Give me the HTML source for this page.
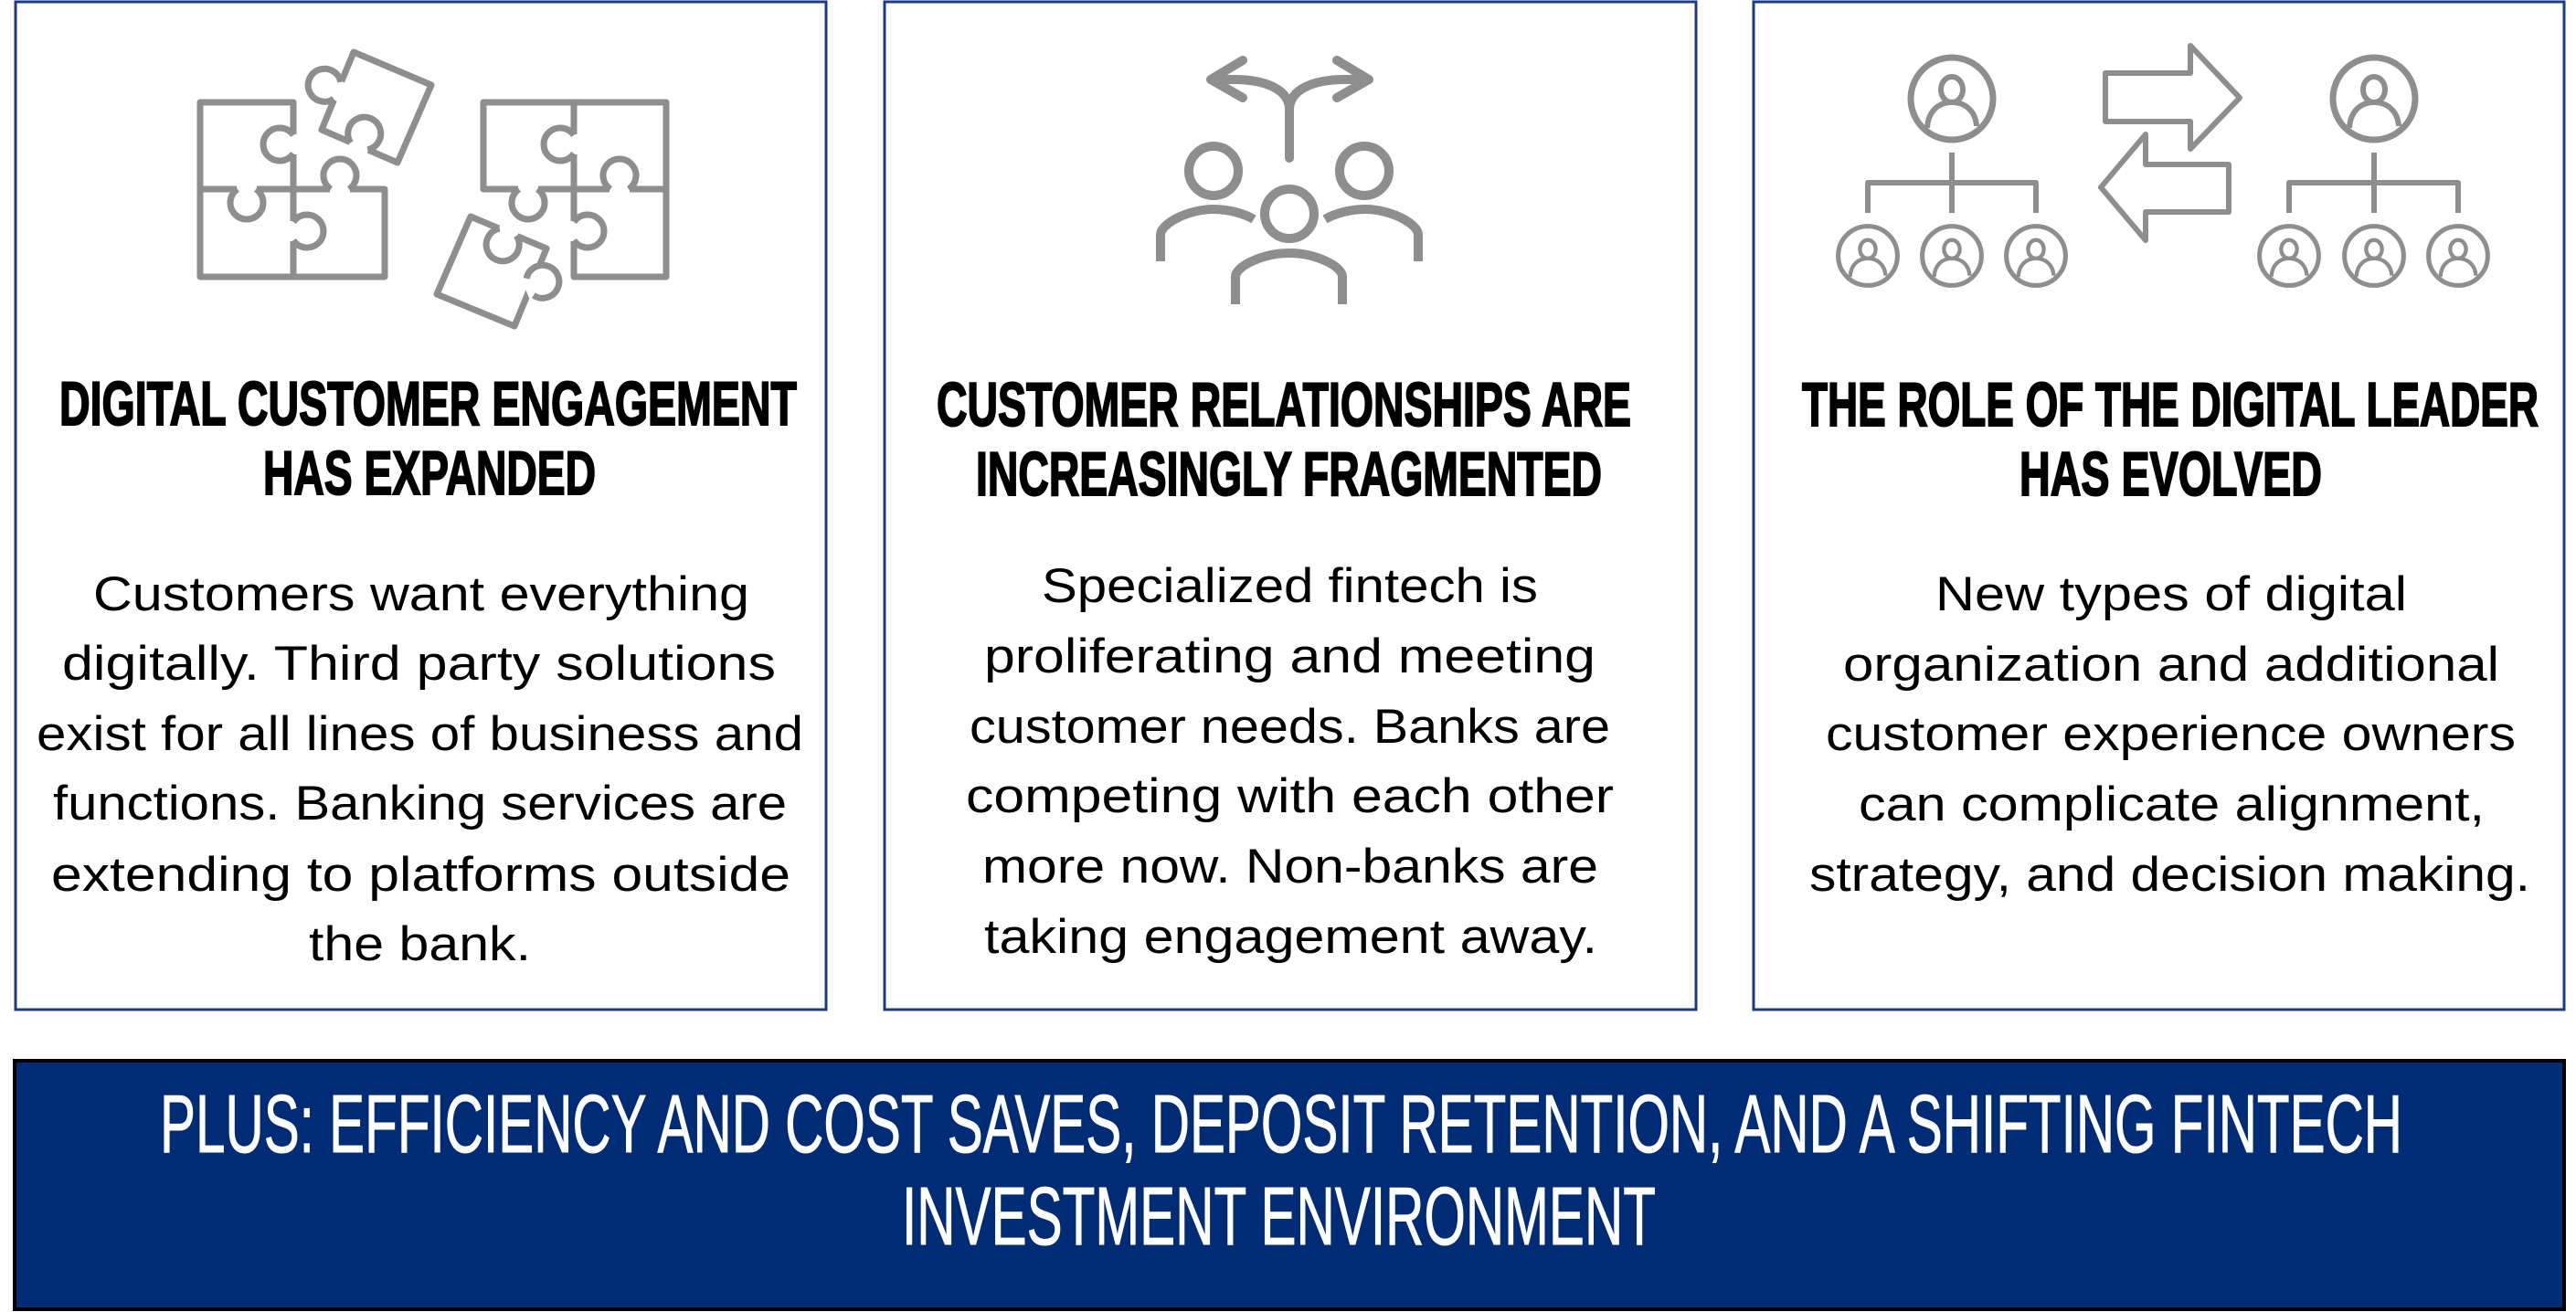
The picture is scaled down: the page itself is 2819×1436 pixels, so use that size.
<!DOCTYPE html>
<html><head><meta charset="utf-8"><style>
html,body{margin:0;padding:0;background:#fff;}
svg{display:block}
.h{font-family:"Liberation Sans Narrow","Liberation Sans",sans-serif;font-weight:bold;font-size:68px;fill:#000;stroke:#000;stroke-width:2}
.b{font-family:"Liberation Sans",sans-serif;font-size:53px;fill:#000}
.p{font-family:"Liberation Sans Narrow","Liberation Sans",sans-serif;font-size:90px;fill:#fff;stroke:#fff;stroke-width:1}
.g{fill:none;stroke:#8e8e8e;stroke-width:7;stroke-linejoin:round}
</style></head><body>
<svg width="2819" height="1436" viewBox="0 0 2819 1436" xmlns="http://www.w3.org/2000/svg">
<defs>
<g id="k"><line x1="-11" y1="0" x2="11" y2="0" stroke="#fff" stroke-width="11"/><path d="M-10,0 A18,18 0 1 1 10,0" fill="#fff" stroke="#8e8e8e" stroke-width="7"/></g>
<g id="pp"><circle r="45" fill="none" stroke="#8e8e8e" stroke-width="7"/><ellipse cx="0" cy="-10" rx="12" ry="14" fill="none" stroke="#8e8e8e" stroke-width="6"/><path d="M-27,32 C-26,14 -15,4 0,4 C15,4 26,14 27,30" fill="none" stroke="#8e8e8e" stroke-width="6"/></g>
</defs>
<rect x="17" y="2" width="887" height="1103" fill="#fff" stroke="#1b3b85" stroke-width="3"/>
<rect x="968" y="2" width="888" height="1103" fill="#fff" stroke="#1b3b85" stroke-width="3"/>
<rect x="1919" y="2" width="887" height="1103" fill="#fff" stroke="#1b3b85" stroke-width="3"/>
<rect x="16" y="1161" width="2790" height="272" fill="#002b75" stroke="#000" stroke-width="4"/>

<path class="g" d="M219,112 H321 V207 H421 V303 H219 Z M219,207 H321 M321,207 V303"/>
<path class="g" d="M529,112 H729 V303 H628 V207 H529 Z M628,112 V207 M628,207 H729"/>
<use href="#k" transform="translate(321,158) rotate(-90)"/>
<use href="#k" transform="translate(372,207)"/>
<use href="#k" transform="translate(321,253) rotate(90)"/>
<use href="#k" transform="translate(270,207) rotate(180)"/>
<use href="#k" transform="translate(628,158) rotate(-90)"/>
<use href="#k" transform="translate(678,207)"/>
<use href="#k" transform="translate(578,207) rotate(180)"/>
<use href="#k" transform="translate(628,253) rotate(90)"/>
<polygon class="g" points="387,57 472,93 435,178 352,142"/>
<use href="#k" transform="translate(369,99) rotate(-67.5)"/>
<use href="#k" transform="translate(393,160) rotate(22.5)"/>
<polygon class="g" points="515,237 598,272 563,357 478,322"/>
<use href="#k" transform="translate(556,254) rotate(203)"/>
<use href="#k" transform="translate(580,314) rotate(67.5)"/>

<g fill="none" stroke="#8e8e8e" stroke-width="10" stroke-linecap="round" stroke-linejoin="round">
<path d="M1360,66 L1325,87 L1360,107 M1327,87 H1350 C1385,87 1411,98 1411,120 V173 M1411,120 C1411,98 1437,87 1472,87 H1497 M1463,66 L1498,87 L1463,107"/>
<circle cx="1328" cy="187" r="27"/><circle cx="1493" cy="187" r="27"/><circle cx="1411" cy="234" r="27"/>
</g>
<g fill="none" stroke="#8e8e8e" stroke-width="10">
<path d="M1270,286 V257 C1270,245 1300,229 1328,229 C1345,229 1362,234 1372,240"/>
<path d="M1552,286 V257 C1552,245 1522,229 1494,229 C1477,229 1460,234 1450,240"/>
<path d="M1352,333 V303 C1352,291 1383,277 1411,277 C1439,277 1469,291 1469,303 V333"/>
</g>

<g class="g" style="stroke-width:6">
<path d="M2136,167 V233 M2044,233 V200 H2228 V233"/>
<path d="M2598,167 V233 M2505,233 V200 H2690 V233"/>
<path d="M2304,80 H2397 V50 L2451,107 L2397,163 V133 H2304 Z"/>
<path d="M2439,180 H2348 V147 L2299,205 L2348,263 V232 H2439 Z"/>
</g>
<use href="#pp" transform="translate(2136,108)"/>
<use href="#pp" transform="translate(2598,108)"/>
<use href="#pp" transform="translate(2044,280) scale(0.72)"/>
<use href="#pp" transform="translate(2136,280) scale(0.72)"/>
<use href="#pp" transform="translate(2228,280) scale(0.72)"/>
<use href="#pp" transform="translate(2505,280) scale(0.72)"/>
<use href="#pp" transform="translate(2598,280) scale(0.72)"/>
<use href="#pp" transform="translate(2690,280) scale(0.72)"/>

<text class="h" x="65" y="465" textLength="807" lengthAdjust="spacingAndGlyphs">DIGITAL CUSTOMER ENGAGEMENT</text>
<text class="h" x="288" y="541" textLength="364" lengthAdjust="spacingAndGlyphs">HAS EXPANDED</text>
<text class="b" x="102" y="668" textLength="718" lengthAdjust="spacingAndGlyphs">Customers want everything</text>
<text class="b" x="68" y="744" textLength="781" lengthAdjust="spacingAndGlyphs">digitally. Third party solutions</text>
<text class="b" x="40" y="821" textLength="839" lengthAdjust="spacingAndGlyphs">exist for all lines of business and</text>
<text class="b" x="58" y="897" textLength="803" lengthAdjust="spacingAndGlyphs">functions. Banking services are</text>
<text class="b" x="56" y="975" textLength="809" lengthAdjust="spacingAndGlyphs">extending to platforms outside</text>
<text class="b" x="338" y="1051" textLength="243" lengthAdjust="spacingAndGlyphs">the bank.</text>

<text class="h" x="1025" y="466" textLength="760" lengthAdjust="spacingAndGlyphs">CUSTOMER RELATIONSHIPS ARE</text>
<text class="h" x="1068" y="542" textLength="685" lengthAdjust="spacingAndGlyphs">INCREASINGLY FRAGMENTED</text>
<text class="b" x="1140" y="659" textLength="543" lengthAdjust="spacingAndGlyphs">Specialized fintech is</text>
<text class="b" x="1077" y="736" textLength="669" lengthAdjust="spacingAndGlyphs">proliferating and meeting</text>
<text class="b" x="1061" y="813" textLength="701" lengthAdjust="spacingAndGlyphs">customer needs. Banks are</text>
<text class="b" x="1057" y="889" textLength="709" lengthAdjust="spacingAndGlyphs">competing with each other</text>
<text class="b" x="1075" y="966" textLength="674" lengthAdjust="spacingAndGlyphs">more now. Non-banks are</text>
<text class="b" x="1077" y="1043" textLength="671" lengthAdjust="spacingAndGlyphs">taking engagement away.</text>

<text class="h" x="1972" y="466" textLength="806" lengthAdjust="spacingAndGlyphs">THE ROLE OF THE DIGITAL LEADER</text>
<text class="h" x="2210" y="542" textLength="331" lengthAdjust="spacingAndGlyphs">HAS EVOLVED</text>
<text class="b" x="2118" y="668" textLength="516" lengthAdjust="spacingAndGlyphs">New types of digital</text>
<text class="b" x="2017" y="745" textLength="718" lengthAdjust="spacingAndGlyphs">organization and additional</text>
<text class="b" x="1998" y="821" textLength="755" lengthAdjust="spacingAndGlyphs">customer experience owners</text>
<text class="b" x="2034" y="898" textLength="685" lengthAdjust="spacingAndGlyphs">can complicate alignment,</text>
<text class="b" x="1980" y="975" textLength="789" lengthAdjust="spacingAndGlyphs">strategy, and decision making.</text>

<text class="p" x="175" y="1261" textLength="2454" lengthAdjust="spacingAndGlyphs">PLUS: EFFICIENCY AND COST SAVES, DEPOSIT RETENTION, AND A SHIFTING FINTECH</text>
<text class="p" x="987" y="1362" textLength="825" lengthAdjust="spacingAndGlyphs">INVESTMENT ENVIRONMENT</text>
</svg>
</body></html>
